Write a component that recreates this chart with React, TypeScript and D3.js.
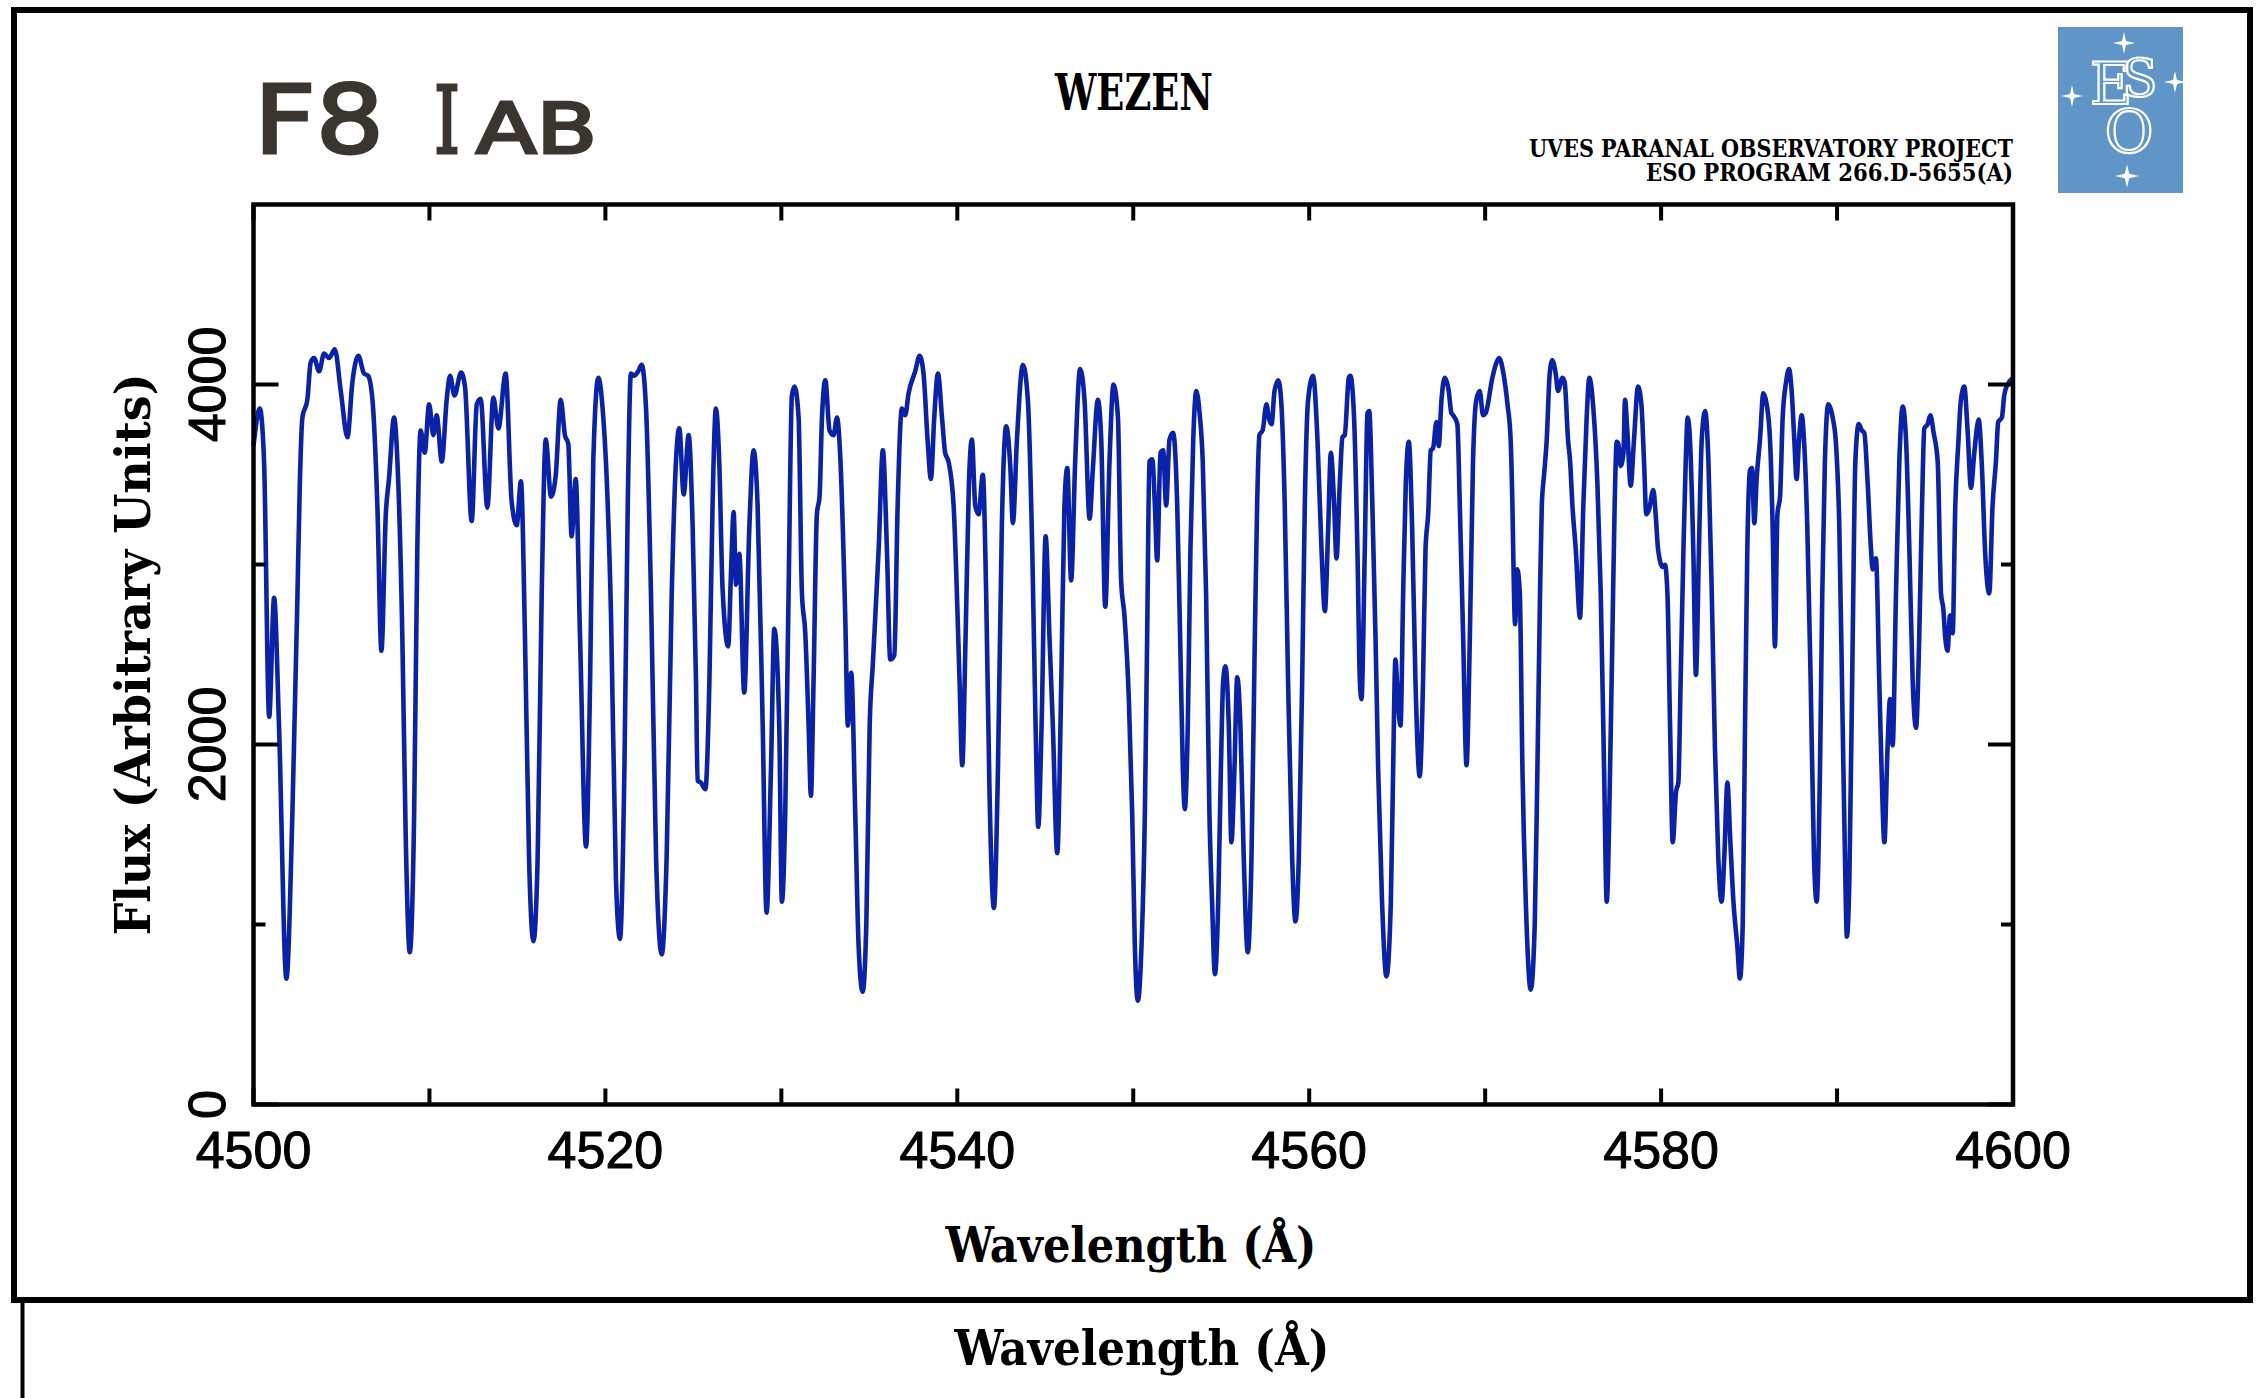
import React from "react";
import * as d3 from "d3";

// spectrum, wavelength in Angstrom, flux in arbitrary units
const wavelength = [
  4500.0, 4500.36, 4500.6, 4500.89, 4501.17, 4501.45, 4501.87, 4502.21, 4502.5, 4502.63, 4502.78, 4503.06, 4503.25, 4503.44, 4503.73, 4504.01, 4504.3, 4504.62, 4504.96, 4505.34, 4505.62, 4505.96, 4506.28, 4506.51, 4506.76, 4507.04, 4507.27, 4507.52, 4507.7, 4507.99, 4508.18, 4508.46, 4508.65, 4508.88, 4509.13, 4509.31, 4509.5, 4509.73, 4509.98,
  4510.22, 4510.41, 4510.7, 4510.98, 4511.17, 4511.42, 4511.8, 4512.02, 4512.4, 4512.69, 4512.91, 4513.29, 4513.63, 4513.92, 4514.33, 4514.67, 4514.96, 4515.2, 4515.43, 4515.66, 4515.91, 4516.15, 4516.38, 4516.61, 4516.91, 4517.17, 4517.46, 4517.7, 4517.89, 4518.08, 4518.31, 4518.56, 4518.9, 4519.13, 4519.31, 4519.6, 4519.88,
  4520.03, 4520.32, 4520.6, 4520.83, 4521.08, 4521.27, 4521.45, 4521.64, 4521.87, 4522.06, 4522.31, 4522.59, 4522.88, 4523.2, 4523.48, 4523.77, 4524.01, 4524.2, 4524.45, 4524.73, 4524.96, 4525.15, 4525.24, 4525.43, 4525.68, 4525.91, 4526.09, 4526.28, 4526.47, 4526.66, 4526.98, 4527.14, 4527.29, 4527.42, 4527.61, 4527.89, 4528.18, 4528.42, 4528.65, 4528.94, 4529.16, 4529.41, 4529.6, 4529.88,
  4530.03, 4530.22, 4530.41, 4530.6, 4530.75, 4530.98, 4531.17, 4531.36, 4531.55, 4531.68, 4531.83, 4532.02, 4532.17, 4532.31, 4532.5, 4532.74, 4532.97, 4533.16, 4533.35, 4533.63, 4533.78, 4533.97, 4534.2, 4534.39, 4534.62, 4534.83, 4535.02, 4535.2, 4535.53, 4535.77, 4536.0, 4536.19, 4536.42, 4536.61, 4536.85, 4537.04, 4537.23, 4537.61, 4537.86, 4538.08, 4538.31, 4538.5, 4538.69, 4538.9, 4539.13, 4539.31, 4539.5, 4539.79,
  4540.13, 4540.28, 4540.47, 4540.66, 4540.83, 4541.02, 4541.21, 4541.45, 4541.64, 4541.83, 4542.08, 4542.31, 4542.53, 4542.78, 4543.01, 4543.16, 4543.39, 4543.73, 4544.01, 4544.26, 4544.45, 4544.6, 4544.79, 4545.02, 4545.24, 4545.43, 4545.68, 4545.91, 4546.09, 4546.25, 4546.47, 4546.7, 4546.98, 4547.23, 4547.52, 4547.7, 4547.99, 4548.18, 4548.41, 4548.65, 4548.88, 4549.13, 4549.31, 4549.5, 4549.75, 4549.94,
  4550.09, 4550.26, 4550.47, 4550.66, 4550.79, 4550.92, 4551.08, 4551.23, 4551.36, 4551.55, 4551.7, 4551.87, 4552.06, 4552.27, 4552.5, 4552.69, 4552.82, 4552.93, 4553.1, 4553.25, 4553.41, 4553.58, 4553.77, 4553.95, 4554.14, 4554.33, 4554.48, 4554.64, 4554.83, 4554.98, 4555.11, 4555.24, 4555.43, 4555.58, 4555.75, 4555.91, 4556.09, 4556.28, 4556.51, 4556.72, 4556.91, 4557.04, 4557.17, 4557.36, 4557.57, 4557.7, 4557.86, 4558.03, 4558.24, 4558.42, 4558.61, 4558.8, 4559.03, 4559.22, 4559.41, 4559.6, 4559.75, 4559.94,
  4560.22, 4560.47, 4560.7, 4560.89, 4561.08, 4561.23, 4561.42, 4561.55, 4561.74, 4561.89, 4562.02, 4562.25, 4562.34, 4562.55, 4562.74, 4562.88, 4562.97, 4563.16, 4563.31, 4563.41, 4563.59, 4563.77, 4563.92, 4564.14, 4564.39, 4564.64, 4564.77, 4564.9, 4565.05, 4565.19, 4565.34, 4565.49, 4565.66, 4565.85, 4566.04, 4566.28, 4566.47, 4566.61, 4566.76, 4566.91, 4567.04, 4567.23, 4567.36, 4567.52, 4567.7, 4567.93, 4568.08, 4568.18, 4568.42, 4568.56, 4568.75, 4568.94, 4569.13, 4569.31, 4569.5, 4569.69, 4569.88,
  4570.03, 4570.41, 4570.6, 4570.79, 4571.04, 4571.27, 4571.45, 4571.55, 4571.64, 4571.7, 4571.83, 4571.97, 4572.12, 4572.31, 4572.59, 4572.82, 4572.97, 4573.12, 4573.22, 4573.35, 4573.5, 4573.67, 4573.82, 4574.01, 4574.14, 4574.39, 4574.52, 4574.71, 4574.83, 4574.96, 4575.15, 4575.39, 4575.58, 4575.77, 4575.92, 4576.15, 4576.38, 4576.57, 4576.76, 4576.91, 4577.1, 4577.23, 4577.36, 4577.48, 4577.57, 4577.7, 4577.86, 4577.95, 4578.08, 4578.27, 4578.46, 4578.69, 4578.88, 4579.03, 4579.16, 4579.31, 4579.56, 4579.69, 4579.83,
  4580.09, 4580.22, 4580.36, 4580.51, 4580.66, 4580.85, 4580.98, 4581.11, 4581.27, 4581.4, 4581.51, 4581.64, 4581.83, 4581.98, 4582.15, 4582.31, 4582.5, 4582.69, 4582.88, 4583.06, 4583.25, 4583.44, 4583.59, 4583.77, 4583.92, 4584.11, 4584.33, 4584.48, 4584.64, 4584.77, 4584.9, 4585.05, 4585.17, 4585.3, 4585.43, 4585.62, 4585.81, 4586.0, 4586.19, 4586.34, 4586.47, 4586.61, 4586.76, 4586.91, 4587.1, 4587.27, 4587.42, 4587.57, 4587.7, 4587.84, 4587.99, 4588.12, 4588.31, 4588.5, 4588.69, 4588.84, 4589.03, 4589.16, 4589.31, 4589.5, 4589.75,
  4589.94, 4590.13, 4590.32, 4590.45, 4590.56, 4590.7, 4590.89, 4591.04, 4591.23, 4591.42, 4591.55, 4591.74, 4591.93, 4592.02, 4592.21, 4592.4, 4592.53, 4592.69, 4592.87, 4593.01, 4593.16, 4593.35, 4593.54, 4593.73, 4593.92, 4594.11, 4594.3, 4594.49, 4594.67, 4594.83, 4594.96, 4595.15, 4595.3, 4595.49, 4595.72, 4595.91, 4596.04, 4596.15, 4596.28, 4596.42, 4596.57, 4596.72, 4596.89, 4597.04, 4597.23, 4597.42, 4597.61, 4597.8, 4598.05, 4598.22, 4598.42, 4598.65, 4598.84, 4599.03, 4599.16, 4599.37, 4599.5, 4599.69, 4600.0,
];

const flux = [
  3658, 3866, 3572, 2154, 2815, 2105, 699, 1616, 2839, 3438, 3817, 3915, 4123, 4147, 4074, 4172, 4147, 4196, 3964, 3707, 4013, 4159, 4061, 4049, 3915, 3328, 2521, 3279, 3475, 3817, 3572, 2594, 1494, 846, 1616, 3083, 3744, 3621, 3890,
  3719, 3829, 3572, 3915, 4049, 3939, 4066, 3988, 3242, 3890, 3920, 3316, 3927, 3756, 4061, 3352, 3218, 3462, 2594, 1372, 907, 1372, 2839, 3694, 3377, 3487, 3915, 3719, 3670, 3157, 3475, 2594, 1433, 2350, 3572, 4037, 3817,
  3572, 2716, 1249, 920, 1861, 3328, 4061, 4049, 4074, 4110, 3866, 2839, 1372, 834, 1372, 2839, 3572, 3756, 3389, 3719, 3205, 2350, 1800, 1788, 1751, 2350, 3328, 3866, 3572, 2863, 2545, 2961, 3291, 2888, 3059, 2289, 3205, 3634, 3328, 2105, 1066, 1861, 2643, 2105,
  1127, 1616, 2839, 3939, 3988, 3817, 2839, 2619, 2105, 1714, 2350, 3279, 3377, 3817, 4024, 3744, 3719, 3817, 3597, 2716, 2105, 2399, 1616, 883, 626, 1005, 2105, 2448, 3083, 3634, 3083, 2472, 2496, 3328, 3866, 3829, 3951, 4074, 4159, 4061, 3694, 3475, 3817, 4061, 3817, 3621, 3572, 3328,
  2350, 1885, 2594, 3450, 3694, 3328, 3279, 3499, 2839, 1738, 1091, 1861, 3205, 3768, 3548, 3230, 3694, 4110, 3915, 3083, 2105, 1543, 2105, 3157, 2594, 2105, 1397, 2350, 3328, 3536, 2912, 3572, 4086, 3915, 3255, 3523, 3915, 3694, 2765, 3572, 4000, 3817, 2912, 2716, 2252, 1616,
  883, 577, 883, 1616, 2594, 3572, 3585, 3328, 3022, 3621, 3634, 3328, 3694, 3731, 3328, 2472, 1861, 1641, 2105, 3083, 3694, 3964, 3841, 3572, 2839, 1616, 1127, 724, 1127, 1861, 2350, 2435, 2105, 1457, 1861, 2374, 2105, 1372, 846, 1372, 2594, 3328, 3719, 3748, 3890, 3817, 3780, 3964, 4024, 3890, 3328, 2350, 1372, 1017, 1372, 2350, 3328, 3915,
  4049, 3694, 3083, 2741, 3205, 3621, 3328, 3034, 3450, 3707, 3719, 4037, 4049, 3817, 3083, 2350, 2252, 3083, 3841, 3853, 3328, 2594, 1861, 1127, 712, 1127, 1861, 2472, 2227, 2105, 2839, 3450, 3682, 3205, 2350, 1824, 2350, 3083, 3279, 3634, 3646, 3792, 3658, 3915, 4037, 3964, 3841, 3829, 3780, 3328, 2594, 1885, 2594, 3572, 3915, 3964, 3829,
  3841, 4037, 4110, 4147, 4061, 3890, 3694, 3328, 2839, 2668, 2973, 2839, 1861, 1127, 638, 1005, 1861, 2839, 3328, 3499, 3694, 4061, 4135, 4061, 3964, 4037, 4013, 3694, 3572, 3328, 3083, 2704, 3328, 3817, 4037, 3866, 3450, 2839, 1861, 1127, 1861, 2594, 3328, 3682, 3670, 3548, 3621, 3915, 3744, 3438, 3694, 3988, 3890, 3572, 3279, 3303, 3414, 3279, 3083,
  2986, 2998, 2839, 2105, 1457, 1738, 1788, 2350, 3083, 3572, 3817, 3694, 3083, 2387, 3083, 3694, 3853, 3572, 2839, 1983, 1372, 1127, 1372, 1788, 1494, 1127, 883, 700, 1005, 2105, 3083, 3523, 3536, 3230, 3475, 3694, 3951, 3890, 3694, 3205, 2545, 3279, 3377, 3817, 4012, 4086, 3964, 3694, 3475, 3694, 3829, 3694, 3205, 2350, 1372, 1127, 1861, 2839, 3572, 3890, 3817,
  3670, 3205, 2105, 1372, 932, 1249, 2594, 3572, 3780, 3744, 3731, 3450, 3083, 2973, 3034, 2350, 1861, 1457, 1983, 2252, 1995, 2839, 3572, 3878, 3694, 3083, 2350, 2093, 2594, 3328, 3756, 3780, 3829, 3731, 3572, 2839, 2753, 2594, 2521, 2716, 2619, 3328, 3670, 3915, 3988, 3744, 3426, 3621, 3805, 3572, 3059, 2839, 3328, 3572, 3792, 3817, 3939, 4000, 4037,
];

const xTicks = [4500, 4520, 4540, 4560, 4580, 4600];
const xMinorTicks = [4510, 4530, 4550, 4570, 4590];
const yTicks = [0, 2000, 4000];
const yMinorTicks = [1000, 3000];

const W = 2258;
const H = 1398;
const left = 253.5;
const right = 2013;
const top = 204.5;
const bottom = 1104.5;

const lineColor = "#0a22aa";
const titleColor = "#3a352f";
const serifBold = "'DejaVu Serif Condensed', 'DejaVu Serif', serif";

const Star = ({ x, y, r }: { x: number; y: number; r: number }) => {
  const w = r * 0.18;
  const d = `M0,${-r}L${w},${-w}L${r},0L${w},${w}L0,${r}L${-w},${w}L${-r},0L${-w},${-w}Z`;
  return <path d={d} transform={`translate(${x},${y})`} fill="white" />;
};

const App = () => {
  const xScale = d3.scaleLinear().domain([4500, 4600]).range([left, right]);
  const yScale = d3.scaleLinear().domain([0, 5000]).range([bottom, top]);

  const points = wavelength.map((w, i) => [w, flux[i]] as [number, number]);
  const path = d3
    .line<[number, number]>()
    .x((d) => xScale(d[0]))
    .y((d) => yScale(d[1]))
    .curve(d3.curveMonotoneX)(points);

  const xTickLen = 16;

  return (
    <svg width={W} height={H} style={{ position: "absolute", left: 0, top: 0, background: "white" }}>
      {/* outer frame */}
      <rect x={14} y={10} width={2236} height={1290} fill="none" stroke="black" strokeWidth={6} />
      <line x1={22.5} x2={22.5} y1={1303} y2={H} stroke="black" strokeWidth={4} />

      {/* title block */}
      <g fill={titleColor} stroke={titleColor} strokeWidth={3}>
        <text x={254} y={153} fontSize={94} fontFamily="'DejaVu Sans', sans-serif" textLength={130} lengthAdjust="spacingAndGlyphs">F8</text>
        <text x={434} y={153} fontSize={94} fontFamily="'DejaVu Serif', serif" textLength={26} lengthAdjust="spacingAndGlyphs">I</text>
        <text x={476} y={153} fontSize={70} fontFamily="'DejaVu Sans', sans-serif" textLength={121} lengthAdjust="spacingAndGlyphs">AB</text>
      </g>
      <text x={1134} y={110} fontSize={50} fontWeight="bold" fontFamily={serifBold} textAnchor="middle"
        textLength={158} lengthAdjust="spacingAndGlyphs">WEZEN</text>
      <g fontFamily={serifBold} fontWeight="bold" fontSize={24} textAnchor="end">
        <text x={2013} y={157} textLength={484} lengthAdjust="spacingAndGlyphs">UVES PARANAL OBSERVATORY PROJECT</text>
        <text x={2013} y={181} textLength={367} lengthAdjust="spacingAndGlyphs">ESO PROGRAM 266.D-5655(A)</text>
      </g>

      {/* ESO logo */}
      <rect x={2058} y={27} width={125} height={166} fill="#5f95c7" />
      <g fill="none" stroke="white" strokeWidth={2.2} fontFamily="'DejaVu Serif', serif">
        <text x={2090} y={104} fontSize={58}>E</text>
        <text x={2122} y={96} fontSize={52}>S</text>
        <text x={2129} y={153} fontSize={60} textAnchor="middle">O</text>
      </g>
      <Star x={2124} y={43} r={11} />
      <Star x={2072} y={96} r={11} />
      <Star x={2175} y={82} r={11} />
      <Star x={2127} y={176} r={12} />

      {/* spectrum */}
      <path d={path ?? ""} fill="none" stroke={lineColor} strokeWidth={4.6} strokeLinejoin="round" />

      {/* axes box */}
      <rect x={left} y={top} width={right - left} height={bottom - top} fill="none" stroke="black" strokeWidth={4.5} />

      {/* y ticks, both sides */}
      {yTicks.map((t) => (
        <g key={"y" + t}>
          <line x1={left} x2={left + 25} y1={yScale(t)} y2={yScale(t)} stroke="black" strokeWidth={4} />
          <line x1={right - 25} x2={right} y1={yScale(t)} y2={yScale(t)} stroke="black" strokeWidth={4} />
        </g>
      ))}
      {yMinorTicks.map((t) => (
        <g key={"ym" + t}>
          <line x1={left} x2={left + 12} y1={yScale(t)} y2={yScale(t)} stroke="black" strokeWidth={4} />
          <line x1={right - 12} x2={right} y1={yScale(t)} y2={yScale(t)} stroke="black" strokeWidth={4} />
        </g>
      ))}

      {/* x ticks, top and bottom */}
      {[...xTicks, ...xMinorTicks].map((t) => (
        <g key={"x" + t}>
          <line x1={xScale(t)} x2={xScale(t)} y1={bottom} y2={bottom - xTickLen} stroke="black" strokeWidth={4} />
          <line x1={xScale(t)} x2={xScale(t)} y1={top} y2={top + xTickLen} stroke="black" strokeWidth={4} />
        </g>
      ))}

      {/* tick labels */}
      <g fontFamily="'Liberation Sans', Arial, sans-serif" fontSize={52} fill="black" stroke="black" strokeWidth={1}>
        {xTicks.map((t) => (
          <text key={"xl" + t} x={xScale(t)} y={1168} textAnchor="middle">{t}</text>
        ))}
        {yTicks.map((t) => (
          <text key={"yl" + t} transform={`translate(225,${yScale(t)}) rotate(-90)`} textAnchor="middle">{t}</text>
        ))}
      </g>

      {/* axis titles */}
      <g fontFamily={serifBold} fontWeight="bold" fontSize={48} fill="black">
        <text x={1131} y={1262} textAnchor="middle" textLength={371} lengthAdjust="spacingAndGlyphs">Wavelength (Å)</text>
        <text transform={`translate(150,${(top + bottom) / 2}) rotate(-90)`} textAnchor="middle"
          textLength={562} lengthAdjust="spacingAndGlyphs">Flux (Arbitrary Units)</text>
        <text x={1142} y={1365} textAnchor="middle" textLength={375} lengthAdjust="spacingAndGlyphs">Wavelength (Å)</text>
      </g>
    </svg>
  );
};

export default App;
